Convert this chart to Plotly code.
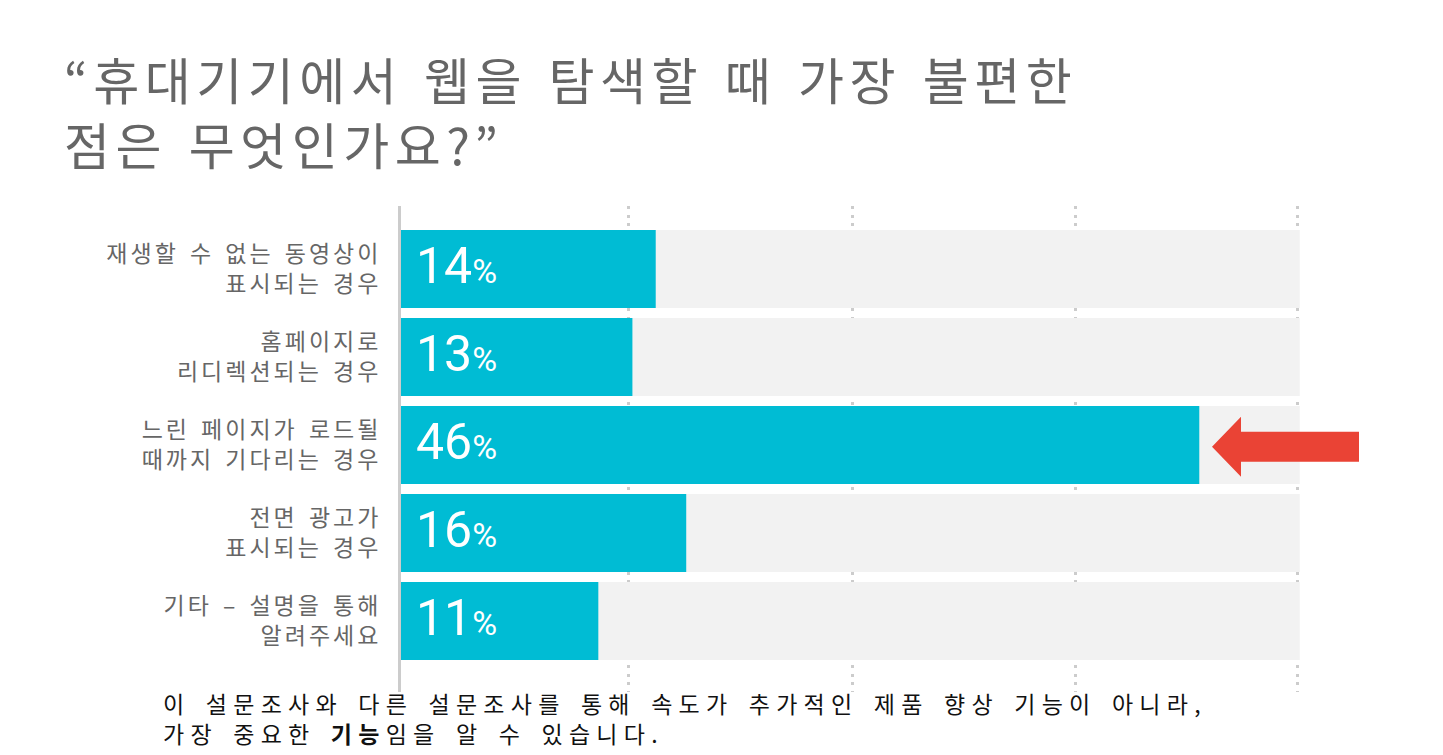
import plotly.graph_objects as go

# ---- data ----
categories = [
    ["재생할 수 없는 동영상이", "표시되는 경우"],
    ["홈페이지로", "리디렉션되는 경우"],
    ["느린 페이지가 로드될", "때까지 기다리는 경우"],
    ["전면 광고가", "표시되는 경우"],
    ["기타 – 설명을 통해", "알려주세요"],
]
bar_lengths = [14.2, 12.9, 44.5, 15.9, 11.0]   # drawn bar lengths
pct_labels = [14, 13, 46, 16, 11]              # printed percentages
track_max = 50.1
grid_ticks = [12.7, 25.15, 37.6, 50]

title_lines = ["“휴대기기에서 웹을 탐색할 때 가장 불편한", "점은 무엇인가요?”"]
footer_lines = ["이 설문조사와 다른 설문조사를 통해 속도가 추가적인 제품 향상 기능이 아니라,",
                "가장 중요한 <b>기능</b>임을 알 수 있습니다."]

KFONT = "Noto Sans CJK KR"
CYAN = "#00BCD4"
TRACK = "#F2F2F2"
GRAY = "#666666"
RED = "#EA4335"

W, H = 1443, 755
L, R, T, B = 401, 142, 206, 63
X_MAX = 50.17


def spaced(lines, ls, ws):
    return "<br>".join(
        f"<span style='letter-spacing:{ls}px;word-spacing:{ws}px'>{ln}</span>" for ln in lines)


ypos = list(range(len(categories)))
ticktext = [spaced(c, 3, 3) for c in categories]

fig = go.Figure()
fig.add_trace(go.Bar(
    x=[track_max] * len(categories), y=ypos, orientation="h",
    marker=dict(color=TRACK, line=dict(width=0)), hoverinfo="skip",
    showlegend=False,
))
fig.add_trace(go.Bar(
    x=bar_lengths, y=ypos, orientation="h",
    marker=dict(color=CYAN, line=dict(width=0)), hoverinfo="skip",
    showlegend=False,
))

annotations = []
for i, v in enumerate(pct_labels):
    annotations.append(dict(
        x=0, y=ypos[i], xref="x", yref="y", xanchor="left", yanchor="middle",
        xshift=13, yshift=3, showarrow=False,
        text=f"<span style='font-size:50px'>{v}</span><span style='font-size:34px'>%</span>",
        font=dict(family="Roboto", color="white", size=50),
    ))

pw = W - L - R
ph = H - T - B

# title
annotations.append(dict(
    x=(62 - L) / pw, y=(H - 40 - B) / ph,
    xref="paper", yref="paper", xanchor="left", yanchor="top",
    align="left", showarrow=False, text=spaced(title_lines, 5.5, 5),
    font=dict(family=KFONT, color=GRAY, size=50),
))

# footer text
annotations.append(dict(
    x=(161 - L) / pw, y=(H - 684 - B) / ph,
    xref="paper", yref="paper", xanchor="left", yanchor="top",
    align="left", showarrow=False, text=spaced(footer_lines, 6.25, 4),
    font=dict(family=KFONT, color="#111111", size=23),
))

# arrow pointing at the highlighted (largest) bar
imax = pct_labels.index(max(pct_labels))


def px(xp):
    return (xp - L) / pw


yc = ypos[imax] + 0.02
path = (f"M {px(1212)} {yc} L {px(1241)} {yc - 0.34} L {px(1241)} {yc - 0.17} "
        f"L {px(1359)} {yc - 0.17} L {px(1359)} {yc + 0.17} L {px(1241)} {yc + 0.17} "
        f"L {px(1241)} {yc + 0.34} Z")
shapes = [dict(type="path", xref="paper", yref="y", path=path,
               fillcolor=RED, line=dict(width=0), layer="above")]

fig.update_layout(
    width=W, height=H,
    margin=dict(l=L, r=R, t=T, b=B, pad=0),
    paper_bgcolor="white", plot_bgcolor="white",
    barmode="overlay", bargap=0.114,
    xaxis=dict(range=[0, X_MAX], tickvals=grid_ticks, showticklabels=False,
               showgrid=True, gridcolor="#CCCCCC", gridwidth=3, griddash="3px,5.5px",
               zeroline=False, showline=False, fixedrange=True),
    yaxis=dict(range=[4.807, -0.716], tickvals=ypos, ticktext=ticktext,
               showgrid=False, zeroline=False, showline=True, linecolor="#CCCCCC",
               linewidth=3, ticks="", ticklabelstandoff=12,
               tickfont=dict(family=KFONT, size=23, color=GRAY), fixedrange=True),
    annotations=annotations, shapes=shapes,
)

fig.write_html("out.html")
